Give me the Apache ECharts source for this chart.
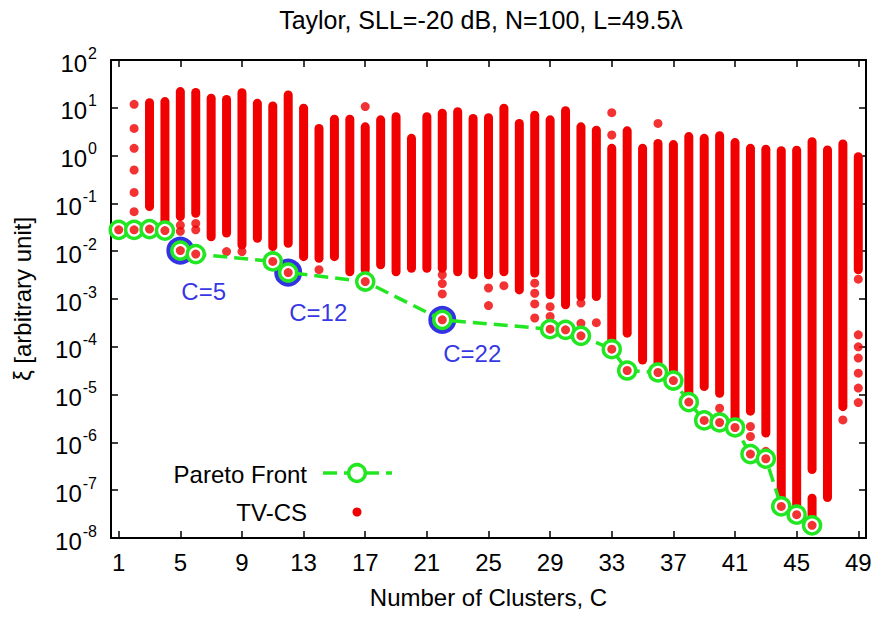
<!DOCTYPE html>
<html>
<head>
<meta charset="utf-8">
<title>Taylor clustering – Pareto front</title>
<script src="https://cdn.jsdelivr.net/npm/echarts@6/dist/echarts.min.js"></script>
<style>
  html, body { margin: 0; padding: 0; background: #ffffff; }
  #chart { width: 879px; height: 619px; }
</style>
</head>
<body>
<div id="chart"></div>
<script>
// ---- text ----
const titleText = 'Taylor, SLL=-20 dB, N=100, L=49.5\u03bb';
const xName = 'Number of Clusters, C';
const yName = '\u03be [arbitrary unit]';

// ---- axis ticks ----
const xTicks = [1, 5, 9, 13, 17, 21, 25, 29, 33, 37, 41, 45, 49];
const yTicks = [1e-8, 1e-7, 1e-6, 1e-5, 1e-4, 1e-3, 1e-2, 1e-1, 1e0, 1e1, 1e2];

// ---- TV-CS solutions ----
// dense runs of solutions: [C, upper xi, lower xi]
const tvcsRuns = [
  [3, 12.8, 0.086], [4, 13.5, 0.033], [5, 21.8, 0.053], [6, 21, 0.062],
  [7, 15.8, 0.020], [8, 15, 0.024], [9, 20.7, 0.0135], [10, 12.4, 0.0187],
  [11, 10.9, 0.0125], [12, 18.5, 0.0147], [13, 9.8, 0.0077], [14, 3.7, 0.0071],
  [15, 5.75, 0.0077], [16, 5.75, 0.0037], [17, 4.0, 0.0041], [18, 5.6, 0.0052],
  [19, 6.5, 0.0037], [20, 2.3, 0.0044], [21, 6.5, 0.0044], [22, 7.7, 0.0044],
  [23, 8.3, 0.0037], [24, 6.0, 0.0032], [25, 6.2, 0.0032], [26, 9.8, 0.0037],
  [27, 4.7, 0.00155], [28, 7.0, 0.0035], [29, 5.6, 0.00122], [30, 8.7, 0.00076],
  [31, 4.0, 0.00113], [32, 3.4, 0.00113], [33, 1.42, 1.4e-4], [34, 3.3, 1.93e-4],
  [35, 1.42, 5.3e-5], [36, 1.8, 4.6e-5], [37, 1.7, 2.4e-5], [38, 2.5, 9.9e-6],
  [39, 2.3, 1.48e-5], [40, 2.6, 1.07e-5], [41, 1.87, 2.5e-6], [42, 1.42, 4.5e-6],
  [43, 1.36, 1.57e-6], [44, 1.27, 5.4e-8], [45, 1.3, 3.3e-8], [46, 1.96, 2.7e-7],
  [46, 6.8e-8, 2.4e-8], [47, 1.31, 7.0e-8], [48, 1.75, 5.6e-6], [49, 0.95, 0.0041]
];
// isolated solutions: [C, xi]
const tvcsDots = [
  [2, 11.8], [2, 3.7], [2, 1.42], [2, 0.5], [2, 0.17], [2, 0.067],
  [5, 0.035], [5, 0.026], [6, 0.038], [6, 0.028], [8, 0.0098], [9, 0.0098],
  [14, 0.0041], [17, 10.6],
  [22, 0.0032], [22, 0.0021], [22, 0.00128],
  [25, 0.0017], [25, 0.00073], [26, 0.0019],
  [28, 0.00214], [28, 0.00132], [28, 0.00079], [28, 0.0004],
  [29, 0.00069], [29, 0.00043], [31, 0.00082], [31, 0.00031], [32, 0.00032],
  [33, 7.9], [33, 2.7], [36, 4.7],
  [40, 5.2e-6], [40, 3.5e-6], [42, 2.15e-6], [42, 1.33e-6], [43, 6.5e-7],
  [48, 2.95e-6],
  [49, 0.0026], [49, 1.78e-4], [49, 1.0e-4], [49, 5.8e-5], [49, 2.8e-5],
  [49, 1.37e-5], [49, 6.8e-6]
];

// ---- Pareto front ----
const paretoC  = [1, 2, 3, 4, 5, 6, 11, 12, 17, 22, 29, 30, 31, 33, 34, 36, 37, 38, 39, 40, 41, 42, 43, 44, 45, 46];
const paretoXi = [0.028, 0.028, 0.029, 0.027, 0.0103, 0.0087, 0.0061, 0.00358, 0.00232, 3.66e-4,
                  2.34e-4, 2.27e-4, 1.7e-4, 8.9e-5, 3.19e-5, 2.9e-5, 1.97e-5, 6.97e-6, 2.88e-6, 2.61e-6,
                  2.05e-6, 5.7e-7, 4.55e-7, 4.58e-8, 3.07e-8, 1.84e-8];
// selected trade-off solutions
const highlightedC = [5, 12, 22];

// ---- style ----
const FONT = '"Liberation Sans", Arial, Helvetica, sans-serif';
const RED = '#f00000';
const GREEN = '#22e622';
const BLUE = '#0000dd';
const FS = 24;
const DOT = 9;
const labelDy = { 5: 41, 12: 40, 22: 34 };

// the y axis is a decade axis: values are placed by their base-10 exponent
const lg = Math.log10;
const runsLog = tvcsRuns.map(r => [r[0], lg(r[1]), lg(r[2])]);
const dotsLog = tvcsDots.map(d => [d[0], lg(d[1])]);
const paretoLog = paretoC.map((c, i) => [c, lg(paretoXi[i])]);
const highlightLog = highlightedC.map(c => [c, lg(paretoXi[paretoC.indexOf(c)])]);
const yTickExp = yTicks.map(v => Math.round(lg(v)));

const chart = echarts.init(document.getElementById('chart'), null, { renderer: 'svg' });

const baseX = {
  type: 'value', min: 0.5, max: 49.5,
  axisLine: { show: true, onZero: false, lineStyle: { color: '#000', width: 2 } },
  axisTick: { show: true, inside: true, length: 7, customValues: xTicks, lineStyle: { color: '#000', width: 1.5 } },
  splitLine: { show: false }
};
const baseY = {
  type: 'value', min: yTickExp[0], max: yTickExp[yTickExp.length - 1], interval: 1,
  axisLine: { show: true, onZero: false, lineStyle: { color: '#000', width: 2 } },
  axisTick: { show: true, inside: true, length: 7, lineStyle: { color: '#000', width: 1.5 } },
  splitLine: { show: false }
};

chart.setOption({
  animation: false,
  backgroundColor: '#ffffff',
  textStyle: { fontFamily: FONT },
  grid: { left: 111, right: 13, top: 60, bottom: 81, containLabel: false, outerBoundsMode: 'none' },
  xAxis: [
    Object.assign({}, baseX, {
      position: 'bottom',
      name: xName, nameLocation: 'middle', nameGap: 47,
      nameTextStyle: { fontSize: FS, color: '#000', fontFamily: FONT },
      axisLabel: { customValues: xTicks, fontSize: FS, color: '#000', margin: 12, fontFamily: FONT }
    }),
    Object.assign({}, baseX, { position: 'top', axisLabel: { show: false } })
  ],
  yAxis: [
    Object.assign({}, baseY, {
      position: 'left',
      name: yName, nameLocation: 'middle', nameGap: 77,
      nameTextStyle: { fontSize: FS, color: '#000', fontFamily: FONT },
      axisLabel: {
        margin: 14, color: '#000',
        formatter: v => '{b|10}{e|' + Math.round(v) + '}',
        rich: {
          b: { fontSize: FS, color: '#000', fontFamily: FONT, verticalAlign: 'bottom' },
          e: { fontSize: 16, color: '#000', fontFamily: FONT, verticalAlign: 'top', padding: [0, 0, 14, 1] }
        }
      }
    }),
    Object.assign({}, baseY, { position: 'right', axisLabel: { show: false } })
  ],
  graphic: [
    { type: 'text', x: 481, y: 20, style: { text: titleText, fill: '#000', font: '25px ' + FONT, align: 'center', verticalAlign: 'middle' } },
    // key
    { type: 'text', x: 307, y: 474, style: { text: 'Pareto Front', fill: '#000', font: FS + 'px ' + FONT, align: 'right', verticalAlign: 'middle' } },
    { type: 'line', shape: { x1: 323, y1: 473, x2: 392, y2: 473 }, style: { stroke: GREEN, lineWidth: 3.5, lineDash: [14, 7] } },
    { type: 'circle', shape: { cx: 357, cy: 473, r: 8.3 }, style: { stroke: GREEN, lineWidth: 3.5, fill: '#fff' } },
    { type: 'text', x: 307, y: 512, style: { text: 'TV-CS', fill: '#000', font: FS + 'px ' + FONT, align: 'right', verticalAlign: 'middle' } },
    { type: 'circle', shape: { cx: 357, cy: 512, r: DOT / 2 }, style: { fill: RED } }
  ],
  series: [
    {
      name: 'TV-CS runs', type: 'custom', z: 2, silent: true, clip: false,
      encode: { x: 0, y: [1, 2] },
      data: runsLog,
      renderItem: (params, api) => {
        const c = api.value(0);
        const p1 = api.coord([c, api.value(1)]);
        const p2 = api.coord([c, api.value(2)]);
        return {
          type: 'line',
          shape: { x1: p1[0], y1: p1[1], x2: p2[0], y2: p2[1] },
          style: { stroke: RED, lineWidth: DOT, lineCap: 'round' }
        };
      }
    },
    {
      name: 'TV-CS', type: 'scatter', z: 2, silent: true,
      symbol: 'circle', symbolSize: DOT, itemStyle: { color: RED },
      data: dotsLog
    },
    {
      name: 'Selected', type: 'scatter', z: 3, silent: true,
      symbol: 'circle', symbolSize: 23,
      itemStyle: { color: '#ffffff', borderColor: BLUE, borderWidth: 5 },
      data: highlightLog.map(p => ({
        value: p,
        label: {
          show: true, position: 'inside', align: 'left', verticalAlign: 'middle',
          offset: [1, labelDy[p[0]]],
          formatter: 'C=' + p[0], color: BLUE, fontSize: FS, fontFamily: FONT,
          textBorderWidth: 0, textBorderColor: 'transparent', textShadowBlur: 0
        }
      }))
    },
    {
      name: 'Pareto Front', type: 'line', z: 4, silent: true,
      symbol: 'circle', symbolSize: 17, showAllSymbol: true,
      lineStyle: { color: GREEN, width: 3.5, type: [14, 7] },
      itemStyle: { color: '#ffffff', borderColor: GREEN, borderWidth: 3.5 },
      data: paretoLog
    },
    {
      name: 'Pareto TV-CS', type: 'scatter', z: 5, silent: true,
      symbol: 'circle', symbolSize: DOT, itemStyle: { color: RED },
      data: paretoLog
    }
  ]
});
</script>
</body>
</html>
